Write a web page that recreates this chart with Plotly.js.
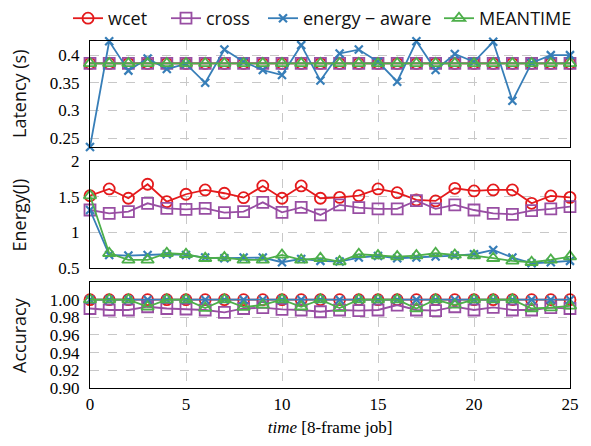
<!DOCTYPE html>
<html>
<head>
<meta charset="utf-8">
<script src="https://cdn.plot.ly/plotly-3.0.1.min.js"></script>
<style>html,body{margin:0;padding:0;background:#fff;}#chart{width:591px;height:446px;}</style>
</head>
<body>
<div id="chart"></div>
<script>
const jobs = [0,1,2,3,4,5,6,7,8,9,10,11,12,13,14,15,16,17,18,19,20,21,22,23,24,25];
const seriesNames = ['wcet', 'cross', 'energy \u2212 aware', 'MEANTIME'];

// Latency (s)
const latWcet = [0.385,0.385,0.385,0.385,0.385,0.385,0.385,0.385,0.385,0.385,0.385,0.385,0.385,0.385,0.385,0.385,0.385,0.385,0.385,0.385,0.385,0.385,0.385,0.385,0.385,0.385];
const latCross = [0.385,0.385,0.385,0.385,0.385,0.385,0.385,0.385,0.385,0.385,0.385,0.385,0.385,0.385,0.385,0.385,0.385,0.385,0.385,0.385,0.385,0.385,0.385,0.385,0.385,0.385];
const latEnergyAware = [0.234,0.425,0.372,0.394,0.375,0.384,0.350,0.410,0.388,0.373,0.364,0.418,0.354,0.403,0.410,0.388,0.352,0.425,0.373,0.402,0.388,0.424,0.3175,0.386,0.400,0.400];
const latMeantime = [0.385,0.385,0.385,0.385,0.385,0.385,0.385,0.385,0.385,0.385,0.385,0.385,0.385,0.385,0.385,0.385,0.385,0.385,0.385,0.385,0.385,0.385,0.385,0.385,0.385,0.385];

// Energy (J)
const enWcet = [1.514,1.608,1.478,1.674,1.43,1.534,1.594,1.548,1.486,1.65,1.478,1.65,1.478,1.49,1.514,1.608,1.556,1.454,1.44,1.617,1.58,1.594,1.594,1.407,1.51,1.49];
const enCross = [1.313,1.267,1.29,1.407,1.337,1.323,1.337,1.276,1.29,1.42,1.28,1.35,1.244,1.384,1.346,1.328,1.328,1.444,1.328,1.384,1.313,1.267,1.253,1.304,1.328,1.36];
const enEnergyAware = [1.313,0.683,0.674,0.683,0.693,0.683,0.646,0.637,0.646,0.646,0.581,0.627,0.6,0.59,0.646,0.669,0.637,0.646,0.66,0.674,0.693,0.753,0.646,0.567,0.581,0.6];
const enMeantime = [1.514,0.707,0.613,0.613,0.707,0.693,0.637,0.646,0.613,0.613,0.683,0.613,0.637,0.59,0.693,0.674,0.66,0.674,0.707,0.683,0.674,0.637,0.6,0.581,0.613,0.66];

// Accuracy
const accWcet = [1,1,1,1,1,1,1,1,1,1,1,1,1,1,1,1,1,1,1,1,1,1,1,1,1,1];
const accCross = [0.990,0.9883,0.9883,0.992,0.990,0.9894,0.9883,0.9856,0.990,0.9909,0.989,0.9883,0.9863,0.9883,0.9875,0.9883,0.9939,0.9883,0.9875,0.992,0.9883,0.9913,0.9883,0.9883,0.9909,0.990];
const accEnergyAware = [1,1,1,1,1,1,1,1,1,1,1,1,1,1,1,1,1,1,1,1,1,1,1,1,1,1];
const accMeantime = [1,1,1,0.992,1,1,0.9905,1,0.9915,0.994,1,0.992,1,0.9905,1,1,1,0.990,1,0.994,1,1,1,0.990,0.991,0.993];

// Axis ticks
const xTicks = [0,5,10,15,20,25];
const latTickVals = [0.25,0.3,0.35,0.4];
const latTickText = ['0.25','0.3','0.35','0.4'];
const enTickVals = [0.5,1,1.5,2];
const enTickText = ['0.5','1','1.5','2'];
const accTickVals = [0.90,0.92,0.94,0.96,0.98,1.00];
const accTickText = ['0.90','0.92','0.94','0.96','0.98','1.00'];
const panelTitles = ['Latency (s)', 'Energy(J)', 'Accuracy'];

const colors = ['#e41a1c', '#984ea3', '#377eb8', '#4daf4a'];
const markers = [
  {symbol: 'circle-open', size: 11, lw: 1.8},
  {symbol: 'square-open', size: 11, lw: 1.8},
  {symbol: 'x-thin-open', size: 8, lw: 2.2},
  {symbol: 'triangle-up-open', size: 11, lw: 1.8}
];
const legendIds = ['legend', 'legend2', 'legend3', 'legend4'];
const legendX = [-0.0458, 0.1583, 0.3604, 0.7271];

const panels = [
  {ys: [latWcet, latCross, latEnergyAware, latMeantime], xa: 'x', ya: 'y'},
  {ys: [enWcet, enCross, enEnergyAware, enMeantime], xa: 'x2', ya: 'y2'},
  {ys: [accWcet, accCross, accEnergyAware, accMeantime], xa: 'x3', ya: 'y3'}
];

const traces = [];
panels.forEach((p, pi) => {
  p.ys.forEach((ys, si) => {
    traces.push({
      type: 'scatter', mode: 'lines+markers',
      x: jobs, y: ys, xaxis: p.xa, yaxis: p.ya,
      name: seriesNames[si], legend: legendIds[si], showlegend: pi === 0,
      cliponaxis: false,
      line: {color: colors[si], width: 1.8},
      marker: {color: colors[si], symbol: markers[si].symbol, size: markers[si].size,
               line: {color: colors[si], width: markers[si].lw}}
    });
  });
});

const tickFont = {family: 'Liberation Serif, Times New Roman, serif', size: 17, color: '#000'};
const sansFont = {family: 'Open Sans, sans-serif', size: 18, color: '#111'};

function xAxis(show, anchor) {
  return {
    range: [0, 25], tickvals: xTicks, showticklabels: show,
    showgrid: true, gridcolor: '#c8c8c8', griddash: 'dash', gridwidth: 1,
    showline: true, linecolor: '#000', linewidth: 1.2, mirror: true, zeroline: false,
    ticks: '', tickfont: tickFont, anchor: anchor, ticklabelstandoff: 0
  };
}
function yAxis(domain, range, vals, text, anchor) {
  return {
    domain: domain, range: range, tickvals: vals, ticktext: text,
    showgrid: true, gridcolor: '#c8c8c8', griddash: 'dash', gridwidth: 1,
    showline: true, linecolor: '#000', linewidth: 1.2, mirror: true, zeroline: false,
    ticks: '', tickfont: tickFont, anchor: anchor, ticklabelstandoff: 6
  };
}

const layout = {
  width: 591, height: 446,
  margin: {l: 90, r: 21, t: 41, b: 58, autoexpand: false},
  paper_bgcolor: '#fff', plot_bgcolor: '#fff',
  showlegend: true,
  xaxis: xAxis(false, 'y'),
  xaxis2: Object.assign(xAxis(false, 'y2'), {matches: 'x'}),
  xaxis3: Object.assign(xAxis(true, 'y3'), {matches: 'x',
    title: {text: '<i>time</i> [8-frame job]', font: tickFont, standoff: 8}}),
  yaxis: yAxis([0.6945, 1], [0.234, 0.4255], latTickVals, latTickText, 'x'),
  yaxis2: yAxis([0.3458, 0.6542], [0.5, 2], enTickVals, enTickText, 'x2'),
  yaxis3: yAxis([0, 0.3055], [0.9, 1.02], accTickVals, accTickText, 'x3'),
  annotations: panelTitles.map((t, i) => ({
    text: t, textangle: -90, xref: 'paper', yref: 'paper',
    x: -0.148, xanchor: 'center', y: [(0.6945 + 1) / 2, 0.5, 0.3055 / 2][i], yanchor: 'middle',
    showarrow: false, font: sansFont
  }))
};
legendIds.forEach((id, i) => {
  layout[id] = {orientation: 'h', x: legendX[i], xanchor: 'left', xref: 'paper',
                y: 1, yanchor: 'top', yref: 'container',
                font: sansFont, bgcolor: 'rgba(0,0,0,0)', borderwidth: 0};
});

Plotly.newPlot('chart', traces, layout, {displayModeBar: false, staticPlot: true});
</script>
</body>
</html>
